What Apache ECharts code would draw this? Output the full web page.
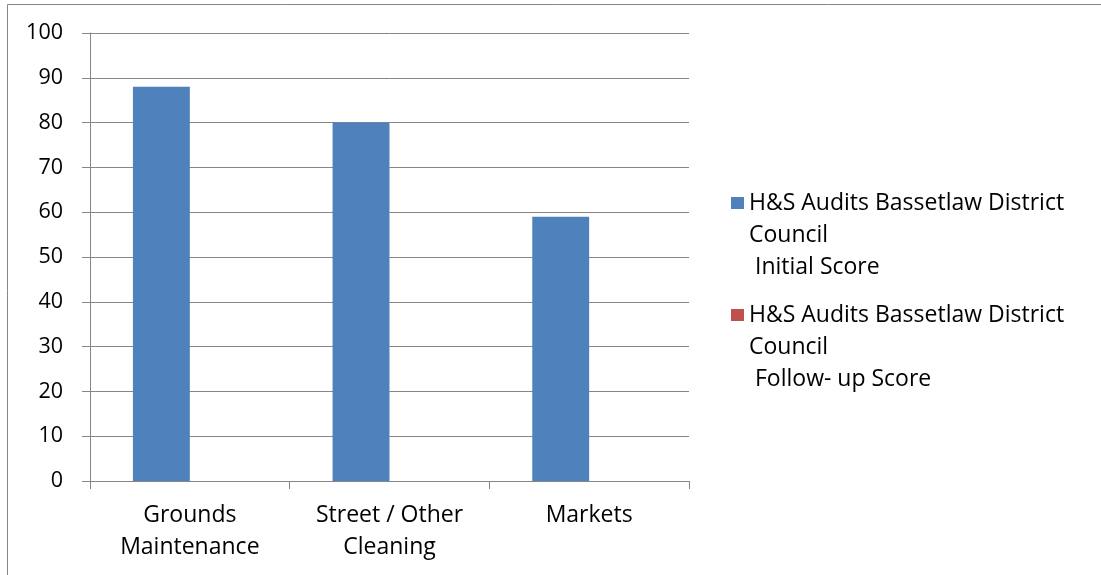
<!DOCTYPE html>
<html>
<head>
<meta charset="utf-8">
<script src="https://cdn.jsdelivr.net/npm/echarts@6/dist/echarts.min.js"></script>
<style>html,body{margin:0;padding:0;background:#fff;}#c{width:1101px;height:575px;}</style>
</head>
<body>
<div id="c"></div>
<script>
var categories = ['Grounds\nMaintenance', 'Street / Other\nCleaning', 'Markets'];
var initialScore = [88, 80, 59];
var followUpScore = [null, null, null];
var seriesNames = ['H&S Audits Bassetlaw District\nCouncil\n Initial Score', 'H&S Audits Bassetlaw District\nCouncil\n Follow- up Score'];
var yTicks = [0, 10, 20, 30, 40, 50, 60, 70, 80, 90, 100];

var FONT = 'Open Sans';
var GRAY = '#868686';
var chart = echarts.init(document.getElementById('c'));
function legendFor(i, top) {
  return {
    data: [seriesNames[i]], orient: 'vertical', left: 731, top: top, padding: 0,
    itemWidth: 13, itemHeight: 12, itemGap: 0, itemStyle: {borderWidth: 0},
    icon: 'rect', selectedMode: false,
    formatter: function (n) { return '\n\n' + n; },
    textStyle: {fontFamily: FONT, fontSize: 23, color: '#000', lineHeight: 32}
  };
}
chart.setOption({
  animation: false,
  textStyle: {fontFamily: FONT},
  graphic: [{type: 'rect', shape: {x: 7.5, y: 4.5, width: 1200, height: 700}, style: {fill: 'none', stroke: GRAY, lineWidth: 1}, silent: true}],
  grid: {left: 90, right: 412, top: 33, bottom: 94},
  legend: [legendFor(0, 123), legendFor(1, 235)],
  xAxis: {
    type: 'category', data: categories,
    axisLine: {lineStyle: {color: GRAY}},
    axisTick: {show: true, length: 8, lineStyle: {color: GRAY}},
    axisLabel: {fontFamily: FONT, fontSize: 23, color: '#000', lineHeight: 32, margin: 18, interval: 0}
  },
  yAxis: {
    type: 'value', min: 0, max: 100, interval: 10,
    axisLine: {show: true, lineStyle: {color: GRAY}},
    axisTick: {show: true, length: 8, lineStyle: {color: GRAY}},
    splitLine: {lineStyle: {color: GRAY}},
    axisLabel: {fontFamily: FONT, fontSize: 21.5, color: '#000', margin: 27,
      formatter: function (v) { return yTicks.indexOf(v) >= 0 ? String(v) : ''; }}
  },
  series: [
    {name: seriesNames[0], type: 'bar', data: initialScore, itemStyle: {color: '#4F81BD'}, barGap: '0%', barCategoryGap: '43%'},
    {name: seriesNames[1], type: 'bar', data: followUpScore, itemStyle: {color: '#C0504D'}}
  ]
});
</script>
</body>
</html>
